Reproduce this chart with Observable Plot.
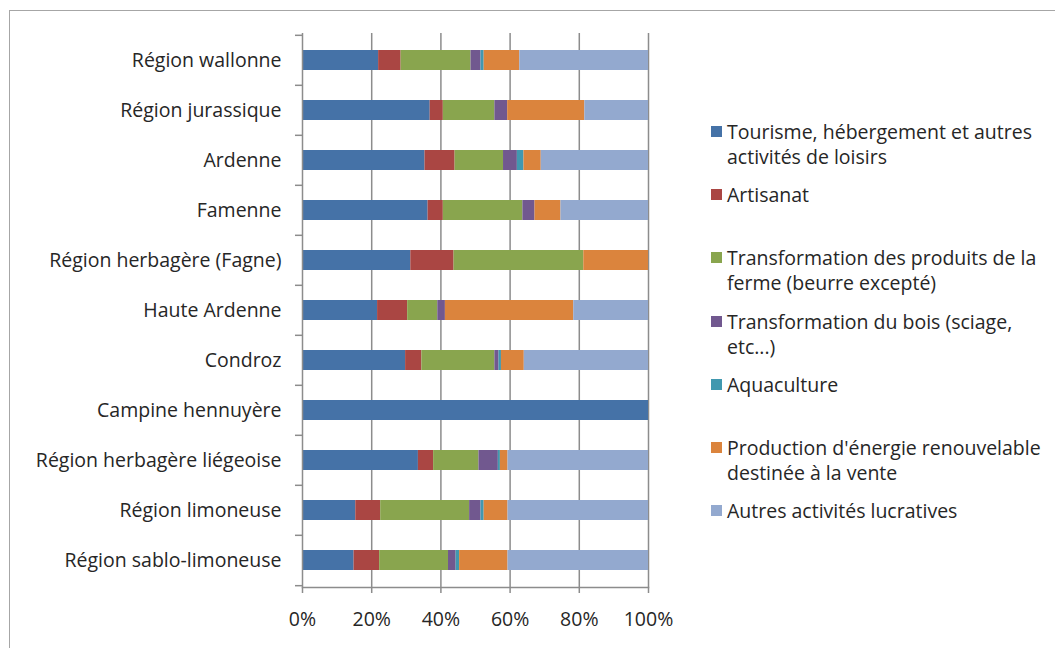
<!DOCTYPE html>
<html>
<head>
<meta charset="utf-8">
<script src="https://cdn.jsdelivr.net/npm/d3@7"></script>
<script src="https://cdn.jsdelivr.net/npm/@observablehq/plot@0.6"></script>
<style>
  body { margin: 0; background: #fff; }
  #wrap { position: relative; width: 1055px; height: 648px; overflow: hidden; font-family: "Open Sans", sans-serif; color: #262626; }
  #border { position: absolute; left: 9px; top: 10px; width: 1100px; height: 700px; border-left: 1.5px solid #a6a6a6; border-top: 1.5px solid #a6a6a6; }
  #chart { position: absolute; left: 0; top: 0; }
  #legend { position: absolute; left: 711px; top: 119px; }
  .item { position: relative; height: 63.2px; }
  .sw { position: absolute; left: 0; top: 7px; width: 11px; height: 11px; }
  .lab { position: absolute; left: 16px; top: 0; white-space: pre; font-size: 19.5px; line-height: 25px; }
</style>
</head>
<body>
<div id="wrap"><div id="border"></div><div id="chart"></div><div id="legend"></div></div>
<script>
const regions = ["Région wallonne","Région jurassique","Ardenne","Famenne","Région herbagère (Fagne)","Haute Ardenne","Condroz","Campine hennuyère","Région herbagère liégeoise","Région limoneuse","Région sablo-limoneuse"];
const seriesNames = ["Tourisme, hébergement et autres\nactivités de loisirs","Artisanat","Transformation des produits de la\nferme (beurre excepté)","Transformation du bois (sciage,\netc...)","Aquaculture","Production d'énergie renouvelable\ndestinée à la vente","Autres activités lucratives"];
const colors = ["#4572A7","#AA4643","#89A54E","#71588F","#4198AF","#DB843D","#93A9CF"];
const tourisme     = [22.0, 36.9, 35.4, 36.3, 31.3, 21.7, 29.8, 100, 33.5, 15.4, 14.9];
const artisanat    = [ 6.5,  3.8,  8.7,  4.4, 12.5,  8.7,  4.7,   0,  4.4,  7.2,  7.4];
const transfoFerme = [20.2, 14.9, 14.0, 23.0, 37.5,  8.7, 21.1,   0, 13.1, 25.7, 19.9];
const transfoBois  = [ 2.9,  3.7,  4.0,  3.5,  0,    2.2,  1.2,   0,  5.6,  3.3,  2.2];
const aquaculture  = [ 0.9,  0,    1.9,  0,    0,    0,    0.7,   0,  0.6,  0.9,  1.0];
const energie      = [10.3, 22.3,  5.0,  7.5, 18.7, 37.1,  6.6,   0,  2.2,  6.9, 14.0];
const autres       = [37.2, 18.4, 31.0, 25.3,  0,   21.6, 35.9,   0, 40.6, 40.6, 40.6];
const xTicks = [0, 0.2, 0.4, 0.6, 0.8, 1];

const seriesValues = [tourisme, artisanat, transfoFerme, transfoBois, aquaculture, energie, autres];
const tidy = [];
regions.forEach((r, i) => seriesValues.forEach((vals, s) => tidy.push({region: r, series: seriesNames[s], value: vals[i]})));

const W = 1055, H = 648, mT = 33, mB = 61, mL = 302, mR = 407;
const step = (H - mT - mB) / regions.length;
const grey = "#8c8c8c";
const fs = 19.5;

const chart = Plot.plot({
  width: W, height: H,
  marginTop: mT, marginBottom: mB, marginLeft: mL, marginRight: mR,
  style: {fontFamily: "'Open Sans', sans-serif", fontSize: fs + "px", color: "#262626", background: "transparent"},
  x: {domain: [0, 1]},
  y: {domain: regions, paddingInner: 0.61, paddingOuter: 0.305},
  color: {domain: seriesNames, range: colors},
  marks: [
    Plot.gridX(xTicks.slice(1), {stroke: grey, strokeOpacity: 1, strokeWidth: 1.5}),
    Plot.barX(tidy, Plot.stackX({x: "value", y: "region", fill: "series", order: seriesNames, offset: "normalize"})),
    Plot.ruleX([0], {stroke: grey, strokeWidth: 1.5}),
    Plot.frame({anchor: "bottom", stroke: grey, strokeWidth: 1.5}),
    Plot.axisY({ticks: regions, tickSize: 7, tickFormat: () => "", dy: -step / 2, stroke: grey, strokeWidth: 1.5, label: null}),
    Plot.axisY({ticks: regions.slice(-1), tickSize: 7, tickFormat: () => "", dy: step / 2, stroke: grey, strokeWidth: 1.5, label: null}),
    Plot.axisY({tickSize: 0, tickPadding: 21, label: null, fontSize: fs}),
    Plot.axisX({ticks: xTicks, tickFormat: d3.format(".0%"), tickSize: 6, tickPadding: 19, stroke: grey, strokeWidth: 1.5, label: null, fontSize: fs})
  ]
});
document.getElementById("chart").appendChild(chart);

const legend = document.getElementById("legend");
seriesNames.forEach((name, i) => {
  const item = document.createElement("div");
  item.className = "item";
  item.innerHTML = `<div class="sw" style="background:${colors[i]}"></div><div class="lab"></div>`;
  item.querySelector(".lab").textContent = name;
  legend.appendChild(item);
});
</script>
</body>
</html>
